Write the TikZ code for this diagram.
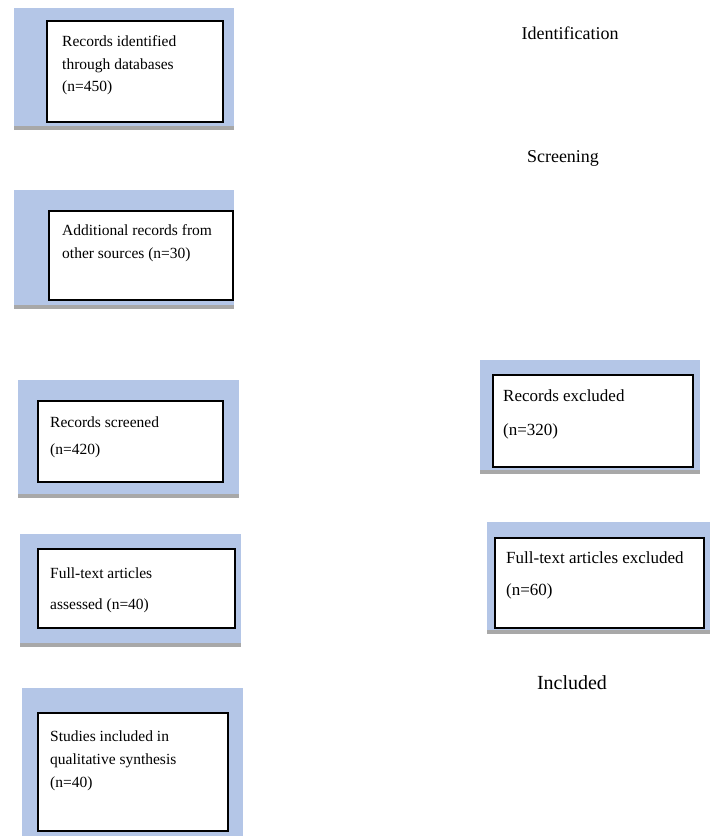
\documentclass[tikz,border=0pt]{standalone}
\usepackage{fontspec}
\setmainfont{Liberation Serif}
\definecolor{panelblue}{RGB}{180,198,231}
\definecolor{shadegray}{RGB}{168,168,168}
\begin{document}
\begin{tikzpicture}[x=1pt, y=-1pt,
  wbox/.style={draw=black, line width=1.5pt, fill=white, anchor=north west, inner sep=0pt},
  txt/.style={anchor=north west, align=left, inner sep=0pt},
  stage/.style={inner sep=0pt, font=\fontsize{18}{20}\selectfont}]
\useasboundingbox (0,0) rectangle (710,836);
% blue panels with grey bottom edge
\foreach \xa/\ya/\xb/\yb in {14/8/234/126, 14/190/234/305, 18/380/239/494, 20/534/241/643, 22/688/243/836, 480/360/700/470, 487/522/710/630} {
  \fill[panelblue] (\xa,\ya) rectangle (\xb,\yb);
  \fill[shadegray] (\xa,\yb) rectangle (\xb,\yb+4);
}
% white boxes
\node[wbox, minimum width=176pt, minimum height=101pt] (recid) at (46,20) {};
\node[wbox, minimum width=184pt, minimum height=89pt] (addrec) at (48,210) {};
\node[wbox, minimum width=185pt, minimum height=81pt] (screen) at (37,400) {};
\node[wbox, minimum width=197pt, minimum height=79pt] (fulltext) at (37,548) {};
\node[wbox, minimum width=190pt, minimum height=118pt] (studies) at (37,712) {};
\node[wbox, minimum width=200pt, minimum height=92pt] (recexcl) at (492,374) {};
\node[wbox, minimum width=209pt, minimum height=90pt] (ftexcl) at (494,537) {};
% box texts
\node[txt, font=\fontsize{15.5}{22.5}\selectfont] (recidtxt) at (62,35.5) {Records identified\\through databases\\(n=450)};
\node[txt, font=\fontsize{15.5}{23}\selectfont] (addrectxt) at (62,224.5) {Additional records from\\other sources (n=30)};
\node[txt, font=\fontsize{15.5}{27}\selectfont] (screentxt) at (50,416.5) {Records screened\\(n=420)};
\node[txt, font=\fontsize{15.5}{31}\selectfont] (fulltexttxt) at (50,567.5) {Full-text articles\\assessed (n=40)};
\node[txt, font=\fontsize{15.5}{23}\selectfont] (studiestxt) at (50,730.5) {Studies included in\\qualitative synthesis\\(n=40)};
\node[txt, font=\fontsize{17}{34}\selectfont] (recexcltxt) at (503,389) {Records excluded\\(n=320)};
\node[txt, font=\fontsize{17}{32}\selectfont] (ftexcltxt) at (506,551) {Full-text articles excluded\\(n=60)};
% stage labels
\node[stage] (ident) at (570,33) {Identification};
\node[stage] (screening) at (563,158) {Screening};
\node[stage, font=\fontsize{20}{22}\selectfont] (incl) at (572,683) {Included};
\end{tikzpicture}
\end{document}
